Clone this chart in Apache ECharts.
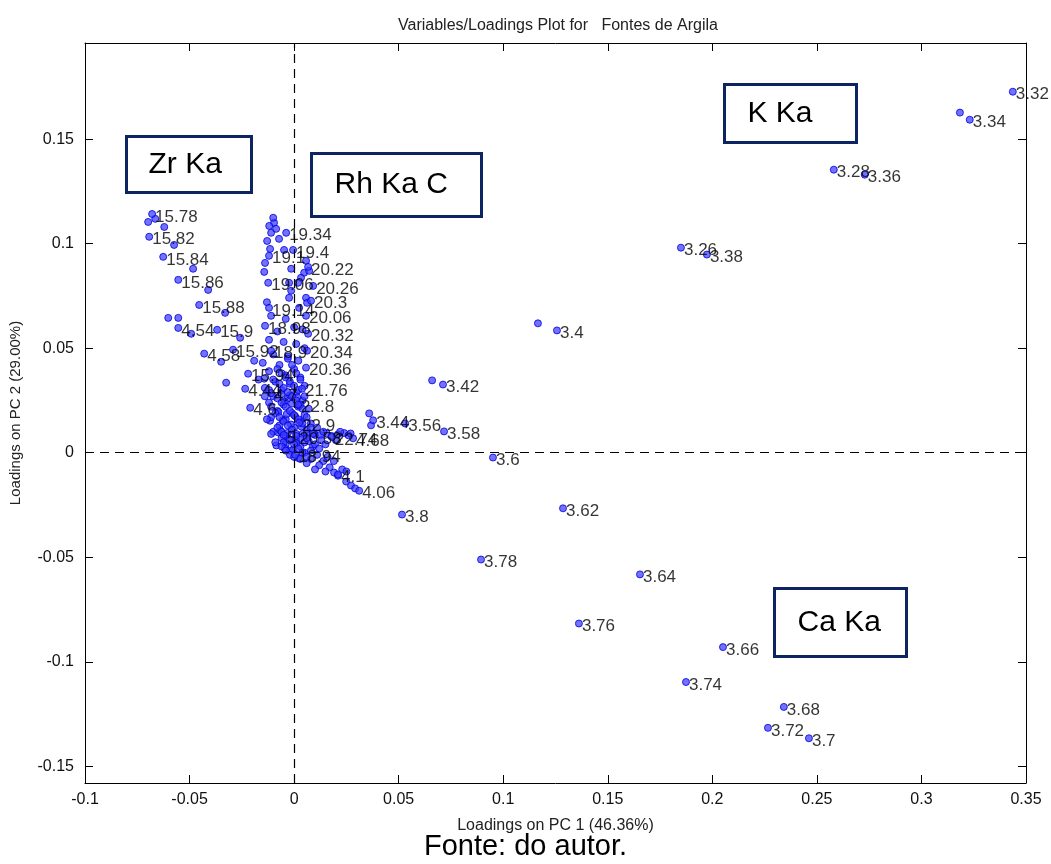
<!DOCTYPE html>
<html>
<head>
<meta charset="utf-8">
<script src="https://cdn.jsdelivr.net/npm/echarts@6/dist/echarts.min.js"></script>
<style>
html,body{margin:0;padding:0;background:#fff;}
#chart{width:1051px;height:864px;}
</style>
</head>
<body>
<div id="chart"></div>
<script>
// ---- data ----
var labeledNames = ["3.32","3.34","3.28","3.36","3.26","3.38","3.4","3.42","3.44","3.56","3.58","3.6","3.62","3.8","4.06","4.1","3.78","3.64","3.76","3.66","3.74","3.68","3.72","3.7",
  "15.78","15.82","15.84","15.86","15.88","4.54","15.9","4.58","15.92","18.9","15.94","4.44","4.6","4.7",
  "19.34","19.4","19.1","20.22","19.06","20.26","20.3","19.14","20.06","18.98","20.32","20.34","20.36","21.76","22.8","22.9","4.68","22.74","20.58","5","18.94"];
var labeledX = [0.3437,0.3231,0.2581,0.2729,0.1850,0.1974,0.1257,0.0712,0.0378,0.0531,0.0717,0.0951,0.1286,0.0516,0.0311,0.0210,0.0894,0.1654,0.1362,0.2051,0.1874,0.2342,0.2266,0.2462,
  -0.0679,-0.0693,-0.0626,-0.0554,-0.0454,-0.0554,-0.0368,-0.0430,-0.0292,-0.0110,-0.0220,-0.0234,-0.0210,-0.0110,
  -0.0038,-0.0005,-0.0120,0.0067,-0.0124,0.0091,0.0081,-0.0120,0.0057,-0.0139,0.0067,0.0062,0.0057,0.0038,0.0019,0.0024,0.0282,0.0180,0.0010,-0.0050,0.0005];
var labeledY = [0.1727,0.1593,0.1354,0.1330,0.0981,0.0948,0.0585,0.0326,0.0155,0.0140,0.0102,-0.0023,-0.0266,-0.0296,-0.0182,-0.0104,-0.0511,-0.0582,-0.0817,-0.0930,-0.1097,-0.1216,-0.1316,-0.1366,
  0.1142,0.1033,0.0937,0.0827,0.0707,0.0597,0.0588,0.0474,0.0493,0.0488,0.0378,0.0306,0.0215,0.0285,
  0.1052,0.0970,0.0942,0.0889,0.0813,0.0798,0.0727,0.0693,0.0655,0.0607,0.0569,0.0488,0.0407,0.0306,0.0230,0.0143,0.0069,0.0075,0.0080,0.0085,-0.0010];

var otherX = [0.3184,0.1166,0.0660,0.0359,0.0368,0.0249,0.0272,0.0292,0.0191,
  -0.0698,-0.0664,-0.0621,-0.0574,-0.0483,-0.0411,-0.0330,-0.0602,-0.0554,-0.0492,-0.0258,-0.0349,-0.0191,-0.0325,-0.0143,-0.0115,
  -0.0096,-0.0100,-0.0119,-0.0110,-0.0086,-0.0129,-0.0072,-0.0115,-0.0048,-0.0139,-0.0143,-0.0014,0.0057,0.0048,0.0033,0.0072,0.0019,-0.0024,-0.0014,-0.0024,0.0057,0.0062,0.0024,
  -0.0130,-0.0110,-0.0040,0.0000,0.0040,-0.0080,-0.0120,-0.0050,0.0010,0.0050,-0.0100,-0.0030,0.0020,-0.0150,-0.0070,0.0000,-0.0120,-0.0040,0.0030,-0.0170,-0.0090,-0.0020,0.0050,
  -0.0140,-0.0060,0.0010,-0.0100,-0.0030,0.0040,-0.0120,-0.0050,0.0020,0.0070,-0.0080,-0.0010,0.0050,-0.0110,-0.0040,0.0030,0.0080,-0.0070,0.0000,0.0060,-0.0100,-0.0030,0.0040,0.0100,
  -0.0060,0.0010,0.0070,-0.0040,0.0030,0.0090,-0.0020,0.0050,0.0110,0.0020,0.0080,0.0140,0.0060,0.0120,0.0170,0.0100,0.0150,
  0.0060,0.0095,0.0125,0.0155,0.0210,0.0240,0.0260,0.0270,-0.0076,-0.0050,
  -0.0060,-0.0020,0.0015,-0.0045,-0.0010,0.0025,-0.0075,-0.0035,0.0005,-0.0055,-0.0015,0.0035,-0.0065,-0.0025,0.0010,-0.0085,-0.0045,-0.0005];
var otherY = [0.1627,0.0619,0.0346,0.0188,0.0131,-0.0138,-0.0157,-0.0171,-0.0095,
  0.1104,0.1119,0.1080,0.0994,0.0880,0.0779,0.0669,0.0645,0.0645,0.0569,0.0550,0.0435,0.0440,0.0335,0.0354,0.0153,
  0.1100,0.1124,0.1085,0.1052,0.1071,0.1013,0.1023,0.0975,0.0970,0.0908,0.0865,0.0880,0.0918,0.0861,0.0837,0.0870,0.0813,0.0813,0.0775,0.0741,0.0741,0.0717,0.0693,
  0.0720,0.0655,0.0640,0.0600,0.0590,0.0580,0.0540,0.0530,0.0520,0.0500,0.0470,0.0460,0.0440,0.0430,0.0420,0.0400,0.0390,0.0370,0.0360,0.0350,0.0340,0.0330,0.0320,
  0.0310,0.0300,0.0290,0.0270,0.0260,0.0250,0.0240,0.0230,0.0220,0.0210,0.0200,0.0190,0.0180,0.0170,0.0160,0.0150,0.0140,0.0130,0.0120,0.0110,0.0100,0.0095,0.0090,0.0085,
  0.0070,0.0060,0.0055,0.0040,0.0030,0.0030,0.0010,0.0000,-0.0010,-0.0025,-0.0030,-0.0040,-0.0050,-0.0060,-0.0070,-0.0080,-0.0090,
  0.0090,0.0092,0.0085,0.0093,0.0088,0.0094,0.0083,0.0092,0.0097,0.0050,
  0.0280,0.0275,0.0265,0.0245,0.0235,0.0225,0.0195,0.0185,0.0175,0.0155,0.0135,0.0125,0.0105,0.0065,0.0045,0.0035,0.0020,0.0015];

var coreX = [-0.008,-0.006,-0.004,-0.002,0.000,0.002,-0.007,-0.005,-0.003,-0.001,0.001,0.003,-0.008,-0.006,-0.004,-0.002,0.000,0.002,0.004,
  -0.009,-0.007,-0.005,-0.003,-0.001,0.001,0.003,0.005,-0.008,-0.006,-0.004,-0.002,0.000,0.002,0.004,-0.006,-0.004,-0.002,0.000,0.003,0.006,
  0.008,0.006,0.008,0.006,0.004,0.005,0.003,0.001,-0.001,-0.003,-0.010,-0.012,-0.014,-0.011,-0.013,-0.011,-0.009,0.010,0.012,0.009,0.011,
  0.013,0.015,0.014,0.018,0.020,0.022,0.016,0.019,0.023,0.021,0.025];
var coreY = [0.040,0.038,0.036,0.034,0.032,0.030,0.033,0.031,0.029,0.027,0.025,0.023,0.026,0.024,0.022,0.020,0.018,0.016,0.014,
  0.019,0.017,0.015,0.013,0.011,0.009,0.007,0.005,0.012,0.010,0.008,0.006,0.004,0.002,0.000,0.003,0.001,-0.001,-0.002,-0.003,-0.002,
  0.001,0.007,0.012,0.017,0.021,0.027,0.035,0.038,0.042,0.045,0.035,0.030,0.027,0.022,0.016,0.009,0.005,0.004,0.002,0.009,0.012,
  0.006,0.004,0.010,0.008,0.006,0.010,-0.002,-0.004,-0.008,-0.011,-0.009];

var yTicks = [-0.15,-0.1,-0.05,0,0.05,0.1,0.15];

var titleText = "Variables/Loadings Plot for   Fontes de Argila";
var xName = "Loadings on PC 1 (46.36%)";
var yName = "Loadings on PC 2 (29.00%)";
var sourceText = "Fonte: do autor.";
var boxLabels = ["Zr Ka","Rh Ka C","K Ka","Ca Ka"];

// ---- chart ----
var chart = echarts.init(document.getElementById('chart'), null, {renderer:'canvas'});
var FONT = "'Liberation Sans', Arial, sans-serif";

var labeledData = labeledNames.map(function(n,i){ return {name:n, value:[labeledX[i], labeledY[i]]}; });
var otherData = otherX.map(function(x,i){ return [x, otherY[i]]; })
  .concat(coreX.map(function(x,i){ return [x, coreY[i]]; }));

function fmt(v){ return String(+(+v).toFixed(2)); }

var ptStyle = {color:'rgba(60,60,255,0.9)', borderColor:'#0000dd', borderWidth:1};

function box(x,y,w,h,txt,tx){
  return {
    type:'group', left:x, top:y, z:100,
    children:[
      {type:'rect', shape:{x:0,y:0,width:w,height:h}, style:{fill:'#fff', stroke:'#0c2461', lineWidth:3}},
      {type:'text', x:tx, y:h/2, style:{text:txt, font:"30px " + FONT, fill:'#000', textVerticalAlign:'middle'}}
    ]
  };
}

var axisCommon = {
  type:'value', min:-0.1, max:0.35, interval:0.05,
  axisLine:{show:true, onZero:false, lineStyle:{color:'#000', width:1}},
  splitLine:{show:false}
};

chart.setOption({
  animation:false,
  backgroundColor:'#fff',
  title:{text:titleText, left:553, textAlign:'center', top:13,
    textStyle:{fontFamily:FONT, fontSize:16, fontWeight:'normal', color:'#222'}},
  grid:{left:84, right:25, top:43, bottom:81},
  xAxis:[
    Object.assign({}, axisCommon, {position:'bottom',
      axisTick:{show:true, inside:true, length:8, lineStyle:{color:'#000'}},
      axisLabel:{show:true, margin:9, color:'#111', fontSize:16, fontFamily:FONT, formatter:function(v){return fmt(v);}},
      name:xName, nameLocation:'middle', nameGap:35,
      nameTextStyle:{fontFamily:FONT, fontSize:16, color:'#222'}}),
    Object.assign({}, axisCommon, {position:'top',
      axisTick:{show:true, inside:true, length:8, lineStyle:{color:'#000'}},
      axisLabel:{show:false}})
  ],
  yAxis:[
    {type:'value', min:-0.158, max:0.196, position:'left',
      axisLine:{show:true, onZero:false, lineStyle:{color:'#000', width:1}},
      splitLine:{show:false},
      axisTick:{show:true, inside:true, length:8, customValues:yTicks, lineStyle:{color:'#000'}},
      axisLabel:{show:true, customValues:yTicks, margin:11, color:'#111', fontSize:16, fontFamily:FONT, formatter:function(v){return fmt(v);}},
      name:yName, nameLocation:'middle', nameGap:62, nameRotate:90,
      nameTextStyle:{fontFamily:FONT, fontSize:15, color:'#222'}},
    {type:'value', min:-0.158, max:0.196, position:'right',
      axisLine:{show:true, onZero:false, lineStyle:{color:'#000', width:1}},
      splitLine:{show:false},
      axisTick:{show:true, inside:true, length:8, customValues:yTicks, lineStyle:{color:'#000'}},
      axisLabel:{show:false}}
  ],
  series:[
    {type:'scatter', xAxisIndex:0, yAxisIndex:0, data:otherData, symbolSize:7, itemStyle:ptStyle, silent:true,
      markLine:{silent:true, symbol:'none', animation:false,
        lineStyle:{color:'#000', type:[9,6], width:1.2},
        label:{show:false},
        data:[{xAxis:0},{yAxis:0}]}},
    {type:'scatter', xAxisIndex:0, yAxisIndex:0, data:labeledData, symbolSize:7, itemStyle:ptStyle, silent:true,
      label:{show:true, position:'right', distance:0, offset:[-1,3], formatter:'{b}',
        fontFamily:FONT, fontSize:17, color:'#000'}}
  ],
  graphic:[
    box(125,135,125,56,boxLabels[0],22),
    box(310,152,170,63,boxLabels[1],23),
    box(723,83,132,58,boxLabels[2],23),
    box(773,587,132,68,boxLabels[3],23),
    {type:'text', left:'center', top:832, style:{text:sourceText, font:"29px " + FONT, fill:'#000'}, z:100}
  ]
});
</script>
</body>
</html>
